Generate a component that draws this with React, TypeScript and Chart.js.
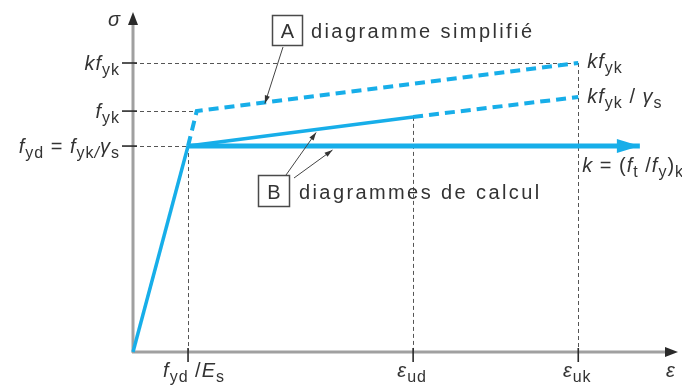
import React, { useEffect, useRef } from "react";
import { Chart, registerables } from "chart.js";

Chart.register(...registerables);

// Strain positions on the ε axis (schematic units, axis runs 0–100)
const EPS_YD = 10.1; // f_yd / E_s
const EPS_YK = 11.7; // f_yk / E_s
const EPS_UD = 51.4; // ε_ud
const EPS_UK = 81.7; // ε_uk
const EPS_END = 93.0; // end of the horizontal design branch (arrow tip)
const EPS_MAX = 100;

// Stress levels on the σ axis (schematic units, axis runs 0–700)
const F_YD = 424; // f_yd = f_yk / γ_s
const F_YK = 496; // f_yk
const KF_YK = 595; // k f_yk
const F_UD = 484; // design stress reached at ε_ud
const KF_YK_GS = 525; // k f_yk / γ_s
const SIG_MAX = 700;

// Tick positions
const strainTicks = [EPS_YD, EPS_UD, EPS_UK];
const stressTicks = [F_YD, F_YK, KF_YK];

// Branches of the diagrams
const elasticX = [0, EPS_YD];
const elasticY = [0, F_YD];
const plateauX = [EPS_YD, EPS_END];
const plateauY = [F_YD, F_YD];
const hardeningX = [EPS_YD, EPS_UD];
const hardeningY = [F_YD, F_UD];
const hardeningExtX = [EPS_UD, EPS_UK];
const hardeningExtY = [F_UD, KF_YK_GS];
const simplifiedX = [EPS_YD, EPS_YK, EPS_UK];
const simplifiedY = [F_YD, F_YK, KF_YK];

const BLUE = "#17aee9";
const INK = "#333333";
const FONT = '"Liberation Sans", Arial, Helvetica, sans-serif';

type Seg = { t: string; i?: boolean; s?: boolean };

// Tick and annotation labels (italic / subscript segments)
const stressLabels: Seg[][] = [
  [{ t: "f", i: true }, { t: "yd", s: true }, { t: " = " }, { t: "f", i: true }, { t: "yk", s: true }, { t: "/", i: true, s: true }, { t: "γ", i: true }, { t: "s", s: true }],
  [{ t: "f", i: true }, { t: "yk", s: true }],
  [{ t: "kf", i: true }, { t: "yk", s: true }],
];
const strainLabels: Seg[][] = [
  [{ t: "f", i: true }, { t: "yd", s: true }, { t: " /" }, { t: "E", i: true }, { t: "s", s: true }],
  [{ t: "ε", i: true }, { t: "ud", s: true }],
  [{ t: "ε", i: true }, { t: "uk", s: true }],
];
const labelKfyk: Seg[] = [{ t: "kf", i: true }, { t: "yk", s: true }];
const labelKfykGs: Seg[] = [{ t: "kf", i: true }, { t: "yk", s: true }, { t: " / " }, { t: "γ", i: true }, { t: "s", s: true }];
const labelK: Seg[] = [
  { t: "k", i: true }, { t: " = (" }, { t: "f", i: true }, { t: "t", s: true }, { t: " /" }, { t: "f", i: true }, { t: "y", s: true }, { t: ")" }, { t: "k", s: true },
];
const noteA = "diagramme simplifié";
const noteB = "diagrammes de calcul";

function segFont(seg: Seg, size: number, subSize: number) {
  return `${seg.i ? "italic " : ""}${seg.s ? subSize : size}px ${FONT}`;
}

function drawRich(
  ctx: CanvasRenderingContext2D,
  segs: Seg[],
  x: number,
  y: number,
  align: "left" | "right" | "center",
  size = 20,
  subSize = 16,
  subDrop = 5
) {
  ctx.save();
  ctx.textAlign = "left";
  ctx.textBaseline = "alphabetic";
  ctx.fillStyle = INK;
  (ctx as any).letterSpacing = "1px";
  const widths = segs.map((s) => {
    ctx.font = segFont(s, size, subSize);
    return ctx.measureText(s.t).width;
  });
  const total = widths.reduce((a, b) => a + b, 0);
  let cx = align === "left" ? x : align === "right" ? x - total : x - total / 2;
  segs.forEach((s, k) => {
    ctx.font = segFont(s, size, subSize);
    ctx.fillText(s.t, cx, y + (s.s ? subDrop : 0));
    cx += widths[k];
  });
  (ctx as any).letterSpacing = "0px";
  ctx.restore();
}

function arrowHead(
  ctx: CanvasRenderingContext2D,
  x0: number,
  y0: number,
  x1: number,
  y1: number,
  len: number,
  half: number,
  color: string
) {
  const a = Math.atan2(y1 - y0, x1 - x0);
  ctx.save();
  ctx.fillStyle = color;
  ctx.beginPath();
  ctx.moveTo(x1, y1);
  ctx.lineTo(x1 - len * Math.cos(a) + half * Math.sin(a), y1 - len * Math.sin(a) - half * Math.cos(a));
  ctx.lineTo(x1 - len * Math.cos(a) - half * Math.sin(a), y1 - len * Math.sin(a) + half * Math.cos(a));
  ctx.closePath();
  ctx.fill();
  ctx.restore();
}

function leader(ctx: CanvasRenderingContext2D, x0: number, y0: number, x1: number, y1: number) {
  ctx.save();
  ctx.strokeStyle = "#444";
  ctx.lineWidth = 1;
  ctx.beginPath();
  ctx.moveTo(x0, y0);
  ctx.lineTo(x1, y1);
  ctx.stroke();
  ctx.restore();
  arrowHead(ctx, x0, y0, x1, y1, 8, 2.6, "#333");
}

function lerp(xs: number[], ys: number[], x: number) {
  for (let k = 0; k < xs.length - 1; k++) {
    if (x >= xs[k] && x <= xs[k + 1]) {
      return ys[k] + ((ys[k + 1] - ys[k]) * (x - xs[k])) / (xs[k + 1] - xs[k]);
    }
  }
  return ys[ys.length - 1];
}

const diagramPlugin = {
  id: "stressStrainDiagram",
  beforeDatasetsDraw(chart: any) {
    const ctx: CanvasRenderingContext2D = chart.ctx;
    const px = (v: number) => chart.scales.x.getPixelForValue(v);
    const py = (v: number) => chart.scales.y.getPixelForValue(v);

    // dashed reference lines
    ctx.save();
    ctx.strokeStyle = "#555";
    ctx.lineWidth = 1;
    ctx.setLineDash([4, 3]);
    const hLines: [number, number][] = [
      [KF_YK, EPS_UK],
      [F_YK, EPS_YK],
      [F_YD, EPS_YD],
    ];
    hLines.forEach(([s, e]) => {
      ctx.beginPath();
      ctx.moveTo(px(0), Math.round(py(s)) + 0.5);
      ctx.lineTo(px(e), Math.round(py(s)) + 0.5);
      ctx.stroke();
    });
    const vLines: [number, number][] = [
      [EPS_YD, F_YD],
      [EPS_UD, F_UD],
      [EPS_UK, KF_YK],
    ];
    vLines.forEach(([e, s]) => {
      ctx.beginPath();
      ctx.moveTo(Math.round(px(e)) + 0.5, py(s));
      ctx.lineTo(Math.round(px(e)) + 0.5, py(0));
      ctx.stroke();
    });
    ctx.restore();

    // axes
    const ox = px(0);
    const oy = py(0);
    ctx.save();
    ctx.strokeStyle = "#a0a0a0";
    ctx.lineWidth = 3;
    ctx.beginPath();
    ctx.moveTo(ox - 1, oy);
    ctx.lineTo(px(EPS_MAX) - 10, oy);
    ctx.moveTo(ox, oy + 1);
    ctx.lineTo(ox, py(SIG_MAX) + 10);
    ctx.stroke();
    ctx.restore();
    arrowHead(ctx, ox, oy, px(EPS_MAX), oy, 13, 5, "#2a2a2a");
    arrowHead(ctx, ox, oy, ox, py(SIG_MAX), 13, 5, "#2a2a2a");
  },
  afterDatasetsDraw(chart: any) {
    const ctx: CanvasRenderingContext2D = chart.ctx;
    const px = (v: number) => chart.scales.x.getPixelForValue(v);
    const py = (v: number) => chart.scales.y.getPixelForValue(v);
    const ox = px(0);
    const oy = py(0);

    // arrow tip of the horizontal design branch
    arrowHead(ctx, px(plateauX[0]), py(plateauY[0]), px(plateauX[1]), py(plateauY[1]), 23, 7, BLUE);

    // tick marks
    ctx.save();
    ctx.strokeStyle = "#2a2a2a";
    ctx.lineWidth = 1.6;
    strainTicks.forEach((e) => {
      ctx.beginPath();
      ctx.moveTo(px(e), oy - 4);
      ctx.lineTo(px(e), oy + 10);
      ctx.stroke();
    });
    stressTicks.forEach((s) => {
      ctx.beginPath();
      ctx.moveTo(ox - 11, py(s));
      ctx.lineTo(ox + 4, py(s));
      ctx.stroke();
    });
    ctx.restore();

    // tick labels
    stressTicks.forEach((s, k) => drawRich(ctx, stressLabels[k], ox - 13, py(s) + 7, "right"));
    strainTicks.forEach((e, k) => drawRich(ctx, strainLabels[k], px(e) + (k === 0 ? 6 : -1), oy + 25, "center"));

    // axis names
    drawRich(ctx, [{ t: "σ", i: true }], ox - 12, py(SIG_MAX) + 14, "right");
    drawRich(ctx, [{ t: "ε", i: true }], px(EPS_MAX) - 12, oy + 25, "left");

    // right-hand labels
    drawRich(ctx, labelKfyk, px(EPS_UK) + 9, py(KF_YK) + 5, "left");
    drawRich(ctx, labelKfykGs, px(EPS_UK) + 9, py(KF_YK_GS) + 6, "left");
    drawRich(ctx, labelK, px(EPS_UK) + 4, py(F_YD) + 26, "left");

    // notes with boxed letters
    ctx.save();
    ctx.strokeStyle = "#4a4a4a";
    ctx.lineWidth = 1.5;
    ctx.strokeRect(272.5, 15.5, 30, 30);
    ctx.strokeRect(258.5, 175.5, 31, 31);
    ctx.fillStyle = INK;
    ctx.textBaseline = "alphabetic";
    ctx.font = `20px ${FONT}`;
    ctx.textAlign = "center";
    ctx.fillText("A", 287.5, 38);
    ctx.fillText("B", 274, 199);
    ctx.textAlign = "left";
    (ctx as any).letterSpacing = "2.4px";
    ctx.fillText(noteA, 311, 38);
    ctx.fillText(noteB, 299, 199);
    (ctx as any).letterSpacing = "0px";
    ctx.restore();

    // leader arrows pointing at the branches
    const aEps = 24.2;
    leader(ctx, 283, 47, px(aEps), py(lerp(simplifiedX, simplifiedY, aEps)) + 1);
    const b1Eps = 33.6;
    leader(ctx, 286, 175, px(b1Eps), py(lerp(hardeningX, hardeningY, b1Eps)) + 3);
    const b2Eps = 36.6;
    leader(ctx, 294, 178, px(b2Eps), py(F_YD) + 4);
  },
};

function pts(xs: number[], ys: number[]) {
  return xs.map((x, k) => ({ x, y: ys[k] }));
}

export default function App() {
  const ref = useRef<HTMLCanvasElement | null>(null);

  useEffect(() => {
    if (!ref.current) return;
    const line = (data: { x: number; y: number }[], width: number, dash: number[] = []) => ({
      data,
      showLine: true,
      borderColor: BLUE,
      backgroundColor: BLUE,
      borderWidth: width,
      borderDash: dash,
      borderCapStyle: "butt" as const,
      pointRadius: 0,
      tension: 0,
      clip: false as const,
    });
    const chart = new Chart(ref.current, {
      type: "scatter",
      data: {
        datasets: [
          line(pts(simplifiedX, simplifiedY), 4, [10, 6]),
          line(pts(hardeningExtX, hardeningExtY), 4, [10, 6]),
          line(pts(elasticX, elasticY), 3.5),
          line(pts(hardeningX, hardeningY), 3.5),
          line(pts(plateauX, plateauY), 5),
        ],
      },
      options: {
        animation: false,
        responsive: false,
        devicePixelRatio: 1,
        layout: { padding: { left: 133, right: 4, top: 12, bottom: 35 } },
        plugins: { legend: { display: false }, tooltip: { enabled: false } },
        scales: {
          x: { type: "linear", min: 0, max: EPS_MAX, display: false },
          y: { type: "linear", min: 0, max: SIG_MAX, display: false },
        },
      },
      plugins: [diagramPlugin],
    });
    return () => chart.destroy();
  }, []);

  return (
    <div style={{ position: "fixed", left: 0, top: 0, width: 682, height: 387, background: "#fff" }}>
      <canvas ref={ref} width={682} height={387} />
    </div>
  );
}
